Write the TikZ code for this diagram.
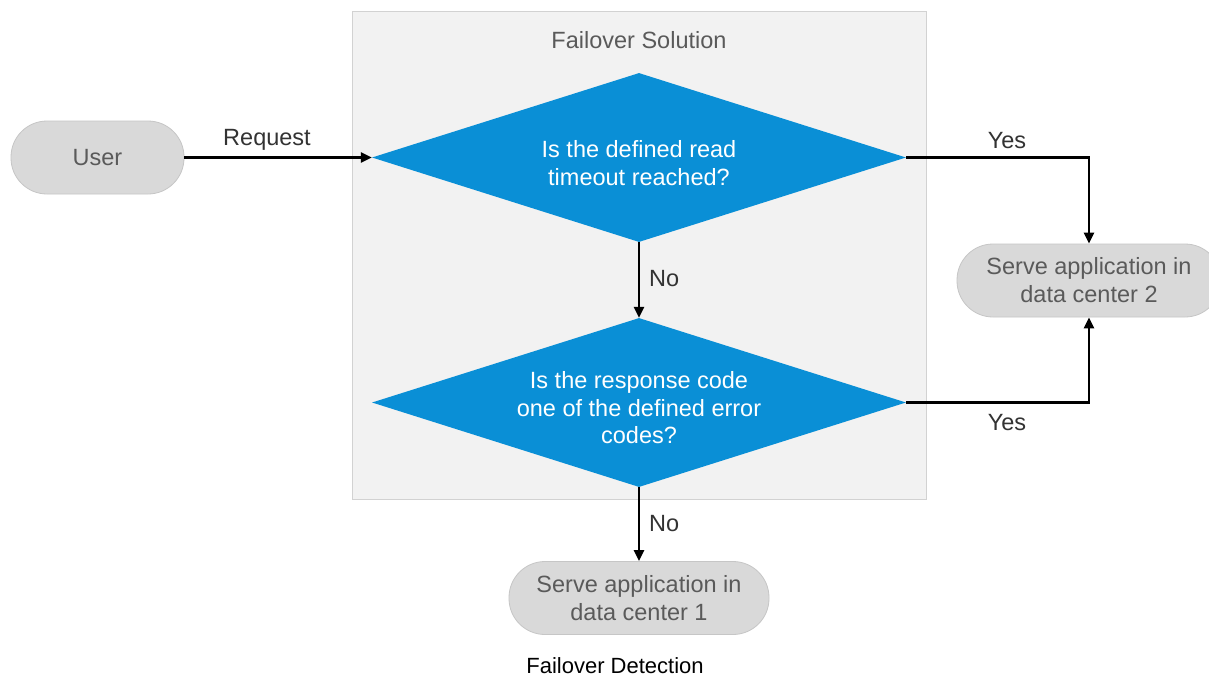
\documentclass[tikz,border=0pt]{standalone}
\usepackage{fontspec}
\setmainfont{Liberation Sans}
\usetikzlibrary{shapes.geometric,arrows.meta}
\definecolor{sapblue}{HTML}{0A8FD6}
\definecolor{pillfill}{HTML}{D9D9D9}
\definecolor{pillline}{HTML}{C6C6C6}
\definecolor{boxfill}{HTML}{F2F2F2}
\definecolor{boxline}{HTML}{D2D2D2}
\definecolor{nodetext}{HTML}{5A5A5A}
\definecolor{labeltext}{HTML}{333333}
\tikzset{
  pill/.style={draw=pillline, line width=0.8pt, fill=pillfill, rounded corners=36pt,
    minimum height=73pt, text=nodetext, align=center, inner sep=0pt,
    font=\fontsize{23.5}{28}\selectfont},
  decision/.style={shape=diamond, fill=sapblue, minimum width=534pt,
    minimum height=169pt, aspect=3.16, inner sep=0pt},
  dtext/.style={text=white, align=center, inner sep=0pt,
    font=\fontsize{23.5}{27.5}\selectfont},
  conn/.style={line width=2.6pt, -{Triangle[length=11pt,width=10pt]}},
  lbl/.style={text=labeltext, font=\fontsize{23.5}{26}\selectfont, inner sep=0pt},
}
\begin{document}
\begin{tikzpicture}[x=1pt,y=-1pt]
\clip (0,0) rectangle (1209,677);
\fill[white] (0,0) rectangle (1209,677);
\node[draw=boxline, line width=1pt, fill=boxfill, minimum width=574pt, minimum height=487pt, inner sep=0pt] (box) at (639,255.5) {};
\node[text=nodetext, font=\fontsize{23.5}{26}\selectfont, inner sep=0pt] (title) at (639,40) {Failover Solution};
\node[pill, minimum width=173pt] (user) at (97.5,157.5) {User};
\node[decision] (d1) at (639,157.5) {};
\node[dtext] (d1t) at ([yshift=-5.5pt]d1.center) {Is the defined read\\timeout reached?};
\node[decision] (d2) at (639,402.5) {};
\node[dtext] (d2t) at ([yshift=-5.5pt]d2.center) {Is the response code\\one of the defined error\\codes?};
\node[pill, minimum width=260pt] (dc1) at (639,598) {Serve application in\\data center 1};
\node[pill, minimum width=264pt] (dc2) at (1089,280.5) {Serve application in\\data center 2};
\draw[conn] (user.east) -- (d1.west);
\draw[conn] (d1.south) -- (d2.north);
\draw[conn] (d2.south) -- (dc1.north);
\draw[conn] (d1.east) -| (dc2.north);
\draw[conn] (d2.east) -| (dc2.south);
\node[lbl] (req) at (267,140) {Request};
\node[lbl, anchor=west] (no1) at (649,279) {No};
\node[lbl, anchor=west] (no2) at (649,524) {No};
\node[lbl] (yes1) at (1007,141) {Yes};
\node[lbl] (yes2) at (1007,423) {Yes};
\node[text=black, font=\fontsize{22}{26}\selectfont, inner sep=0pt] (cap) at (615,665.5) {Failover Detection};
\end{tikzpicture}
\end{document}
